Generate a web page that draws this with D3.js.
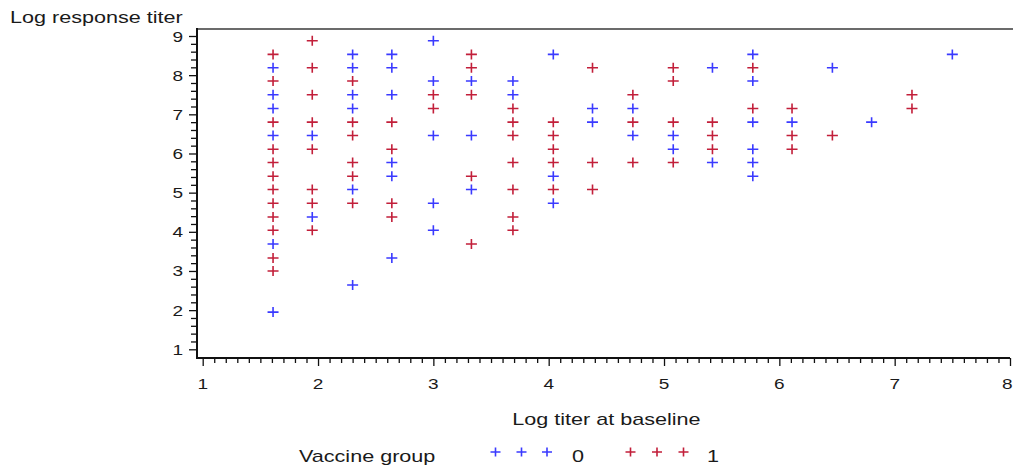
<!DOCTYPE html>
<html>
<script src="https://d3js.org/d3.v7.min.js"></script>
<style>
  body { margin: 0; background: #fff; }
  text { font-family: "Liberation Sans", Arial, sans-serif; fill: #1a1a1a; }
</style>
<body>
<div id="chart"></div>

<script>
    // log titer at baseline, one entry per column of points
    var baseline = [1.61, 1.95, 2.30, 2.64, 3.00, 3.33, 3.69, 4.04, 4.38,
                    4.73, 5.08, 5.42, 5.77, 6.11, 6.46, 6.80, 7.15, 7.50];

    // log response titers for vaccine group 0, per baseline column
    var response0 = [
        [8.19, 7.50, 7.15, 6.46, 3.69, 1.95],
        [6.46, 4.38],
        [8.53, 8.19, 7.50, 7.15, 5.08, 2.64],
        [8.53, 8.19, 7.50, 5.77, 5.42, 3.33],
        [8.88, 7.85, 6.46, 4.73, 4.04],
        [7.85, 6.46, 5.08],
        [7.85, 7.50],
        [8.53, 5.42, 4.73],
        [7.15, 6.80],
        [7.15, 6.46],
        [6.46, 6.11],
        [8.19, 5.77],
        [8.53, 7.85, 6.80, 6.11, 5.77, 5.42],
        [6.80],
        [8.19],
        [6.80],
        [],
        [8.53]
    ];

    // log response titers for vaccine group 1, per baseline column
    var response1 = [
        [8.53, 7.85, 6.80, 6.11, 5.77, 5.42, 5.08, 4.73, 4.38, 4.04, 3.33, 3.00],
        [8.88, 8.19, 7.50, 6.80, 6.11, 5.08, 4.73, 4.04],
        [7.85, 6.80, 6.46, 5.77, 5.42, 4.73],
        [6.80, 6.11, 4.73, 4.38],
        [7.50, 7.15],
        [8.53, 8.19, 7.50, 5.42, 3.69],
        [7.15, 6.80, 6.46, 5.77, 5.08, 4.38, 4.04],
        [6.80, 6.46, 6.11, 5.77, 5.08],
        [8.19, 5.77, 5.08],
        [7.50, 6.80, 5.77],
        [8.19, 7.85, 6.80, 5.77],
        [6.80, 6.46, 6.11],
        [8.19, 7.15],
        [7.15, 6.46, 6.11],
        [6.46],
        [],
        [7.50, 7.15],
        []
    ];

    var xTicks = [1, 2, 3, 4, 5, 6, 7, 8];
    var yTicks = [1, 2, 3, 4, 5, 6, 7, 8, 9];
    var groups = ["0", "1"];
    var colors = ["#3a3aff", "#c21f3a"];

    var W = 1013, H = 467;
    var pLeft = 197, pTop = 29, pRight = 1010, pBottom = 358;
    var sx = 1.27; // the reference text is stretched sideways

    var svg = d3.select("#chart").append("svg")
        .attr("width", W)
        .attr("height", H);

    var x = d3.scaleLinear().domain([1, 8]).range([202.7, 1010]);
    var y = d3.scaleLinear().domain([1, 9]).range([349.3, 36]);

    // flatten columns into points
    var points = [];
    [response0, response1].forEach(function (resp, gi) {
        resp.forEach(function (col, ci) {
            col.forEach(function (v) {
                points.push({ x: baseline[ci], y: v, g: gi });
            });
        });
    });

    // frame: top line gray, left + bottom axes black
    svg.append("line")
        .attr("x1", pLeft).attr("x2", W).attr("y1", pTop).attr("y2", pTop)
        .attr("stroke", "#6b6b6b").attr("stroke-width", 2);

    var xAxis = d3.axisBottom(x)
        .tickValues(d3.range(10, 81).map(function (d) { return d / 10; }))
        .tickSize(5).tickFormat("");
    var gx = svg.append("g").attr("transform", "translate(0," + pBottom + ")").call(xAxis);
    gx.select(".domain").remove();
    gx.selectAll(".tick line")
        .attr("stroke", "#111").attr("stroke-width", 1.3)
        .attr("y2", function (d) { return Math.abs(d - Math.round(d)) < 1e-6 ? 8 : 5; });

    var yAxis = d3.axisLeft(y)
        .tickValues(d3.range(5, 46).map(function (d) { return d / 5; }))
        .tickSize(6).tickFormat("");
    var gy = svg.append("g").attr("transform", "translate(" + pLeft + ",0)").call(yAxis);
    gy.select(".domain").remove();
    gy.selectAll(".tick line")
        .attr("stroke", "#111").attr("stroke-width", 1.3)
        .attr("x2", function (d) { return Math.abs(d - Math.round(d)) < 1e-6 ? -8 : -6; });

    svg.append("line")
        .attr("x1", pLeft).attr("x2", pRight).attr("y1", pBottom).attr("y2", pBottom)
        .attr("stroke", "#111").attr("stroke-width", 2);
    svg.append("line")
        .attr("x1", pLeft).attr("x2", pLeft).attr("y1", pTop - 1).attr("y2", pBottom + 1)
        .attr("stroke", "#111").attr("stroke-width", 2);

    // stretched text helper
    function label(px, py, str, size, anchor) {
        return svg.append("text")
            .attr("transform", "translate(" + px + "," + py + ") scale(" + sx + ",1)")
            .attr("text-anchor", anchor || "start")
            .style("font-size", size + "px")
            .text(str);
    }

    xTicks.forEach(function (t) {
        // last label sits against the right edge, as in the reference
        if (t === 8) label(1012.5, 389, t, 15, "end");
        else label(x(t), 389, t, 15, "middle");
    });
    yTicks.forEach(function (t) { label(183, y(t) + 5.5, t, 15, "end"); });

    label(10, 23, "Log response titer", 17);
    label((202.7 + 1010) / 2, 425, "Log titer at baseline", 17, "middle");

    // plus markers
    function plus(sel, hw, hh) {
        sel.append("path")
            .attr("d", "M" + (-hw) + ",0H" + hw + "M0," + (-hh) + "V" + hh)
            .attr("fill", "none")
            .attr("stroke-width", 1.6);
    }

    var marks = svg.append("g").selectAll("g.pt")
        .data(points).join("g")
        .attr("class", "pt")
        .attr("transform", function (d) { return "translate(" + x(d.x) + "," + y(d.y) + ")"; })
        .attr("stroke", function (d) { return colors[d.g]; });
    plus(marks, 5.5, 5);

    // legend
    label(299, 462, "Vaccine group", 17);
    var legX = [[495.5, 521.5, 547], [630.5, 657, 683.5]];
    var legLab = [578, 713];
    groups.forEach(function (gname, gi) {
        var lg = svg.append("g").selectAll("g")
            .data(legX[gi]).join("g")
            .attr("transform", function (d) { return "translate(" + d + ",452)"; })
            .attr("stroke", colors[gi]);
        plus(lg, 5, 4.5);
        label(legLab[gi], 462, gname, 17, "middle");
    });
</script>

</body>
</html>
